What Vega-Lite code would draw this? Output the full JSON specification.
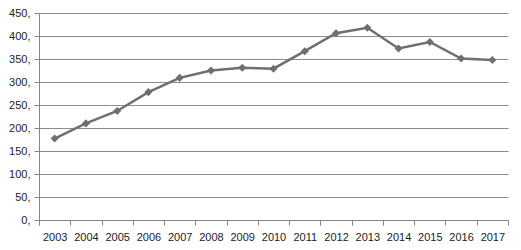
{
  "$schema": "https://vega.github.io/schema/vega-lite/v6.json",
  "autosize": "none",
  "width": 469,
  "height": 207,
  "padding": {"left": 39, "top": 13, "right": 13, "bottom": 30},
  "background": "white",
  "config": {"view": {"stroke": null}},
  "data": {"values": [
    {"year": "2003", "value": 177},
    {"year": "2004", "value": 210},
    {"year": "2005", "value": 237},
    {"year": "2006", "value": 278},
    {"year": "2007", "value": 309},
    {"year": "2008", "value": 325},
    {"year": "2009", "value": 331},
    {"year": "2010", "value": 329},
    {"year": "2011", "value": 367},
    {"year": "2012", "value": 406},
    {"year": "2013", "value": 418},
    {"year": "2014", "value": 373},
    {"year": "2015", "value": 387},
    {"year": "2016", "value": 351},
    {"year": "2017", "value": 348}
  ]},
  "encoding": {
    "x": {"field": "year", "type": "ordinal", "title": null,
      "scale": {"paddingInner": 0, "paddingOuter": 0},
      "axis": {"labelAngle": 0, "tickBand": "extent", "domainColor": "#868686", "tickColor": "#868686", "tickSize": 5, "labelFont": "Liberation Sans", "labelFontSize": 11, "labelColor": "#222", "labelPadding": 6, "grid": false}},
    "y": {"field": "value", "type": "quantitative", "title": null,
      "scale": {"domain": [0, 450]},
      "axis": {"values": [0, 50, 100, 150, 200, 250, 300, 350, 400, 450], "labelExpr": "datum.value + ','", "domainColor": "#868686", "tickColor": "#868686", "tickSize": 5, "gridColor": "#8c8c8c", "labelFont": "Liberation Sans", "labelFontSize": 11, "labelColor": "#222", "labelPadding": 4}}
  },
  "layer": [
    {"mark": {"type": "line", "color": "#6f6f6f", "strokeWidth": 2.5}},
    {"mark": {"type": "point", "shape": "diamond", "filled": true, "color": "#6f6f6f", "size": 65, "opacity": 1}}
  ]
}
